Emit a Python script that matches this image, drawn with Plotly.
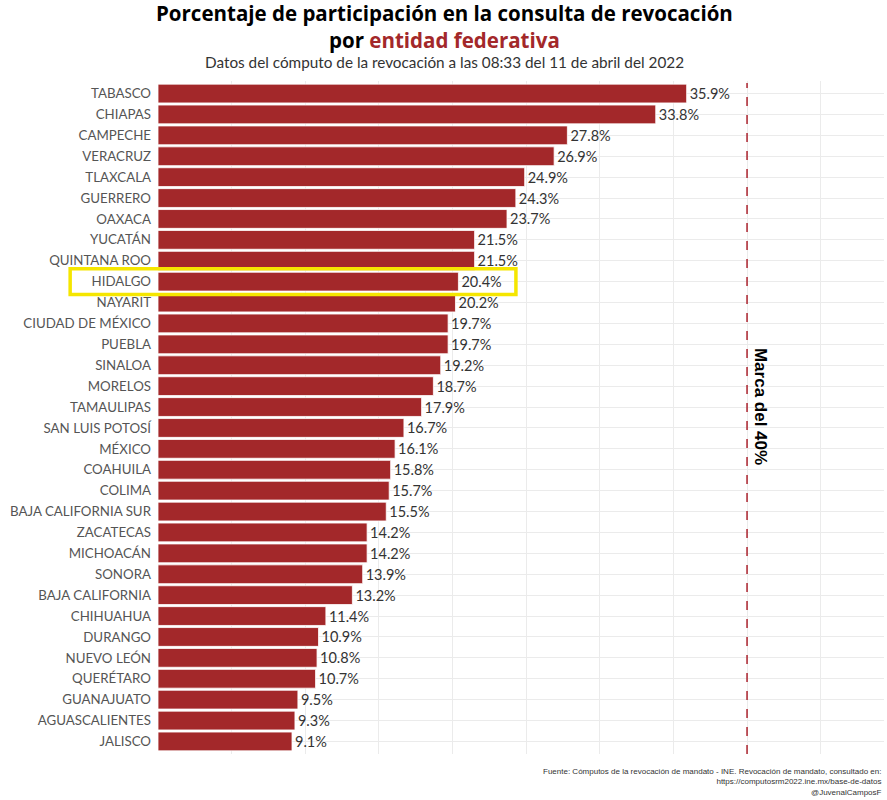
import plotly.graph_objects as go

estados = ['TABASCO', 'CHIAPAS', 'CAMPECHE', 'VERACRUZ', 'TLAXCALA', 'GUERRERO',
           'OAXACA', 'YUCATÁN', 'QUINTANA ROO', 'HIDALGO', 'NAYARIT',
           'CIUDAD DE MÉXICO', 'PUEBLA', 'SINALOA', 'MORELOS', 'TAMAULIPAS',
           'SAN LUIS POTOSÍ', 'MÉXICO', 'COAHUILA', 'COLIMA',
           'BAJA CALIFORNIA SUR', 'ZACATECAS', 'MICHOACÁN', 'SONORA',
           'BAJA CALIFORNIA', 'CHIHUAHUA', 'DURANGO', 'NUEVO LEÓN', 'QUERÉTARO',
           'GUANAJUATO', 'AGUASCALIENTES', 'JALISCO']
participacion = [35.9, 33.8, 27.8, 26.9, 24.9, 24.3, 23.7, 21.5, 21.5, 20.4,
                 20.2, 19.7, 19.7, 19.2, 18.7, 17.9, 16.7, 16.1, 15.8, 15.7,
                 15.5, 14.2, 14.2, 13.9, 13.2, 11.4, 10.9, 10.8, 10.7, 9.5,
                 9.3, 9.1]
etiquetas = [f'{v:.1f}%' for v in participacion]
destacado = 'HIDALGO'
marca = 40

rojo = '#A3282A'
orden = estados[::-1]
pos_destacado = orden.index(destacado)

trace = go.Bar(
    x=participacion,
    y=estados,
    orientation='h',
    width=0.9,
    marker=dict(color=rojo, line=dict(color='white', width=0.8)),
    text=etiquetas,
    textposition='outside',
    textfont=dict(family='Lato', size=14.5, color='#333333'),
    cliponaxis=False,
)

layout = go.Layout(
    width=887, height=800,
    margin=dict(l=158, r=3, t=81, b=46),
    paper_bgcolor='white',
    plot_bgcolor='white',
    showlegend=False,
    font=dict(family='Lato'),
    xaxis=dict(
        range=[0, 49.3],
        dtick=5,
        showticklabels=False,
        showgrid=True,
        gridcolor='#EBEBEB',
        gridwidth=1,
        zeroline=False,
        showline=False,
    ),
    yaxis=dict(
        categoryorder='array',
        categoryarray=orden,
        range=[-0.6, 31.6],
        showgrid=True,
        gridcolor='#EBEBEB',
        gridwidth=1,
        tickfont=dict(family='Lato', size=13.3, color='#555555'),
        ticks='',
        ticklabelstandoff=6,
    ),
    shapes=[
        dict(type='line', xref='x', yref='y', x0=marca, x1=marca,
             y0=-0.6, y1=31.5,
             line=dict(color='#B0303A', width=1.6, dash='dash')),
        dict(type='rect', xref='paper', yref='y',
             x0=-0.121, x1=0.493,
             y0=pos_destacado - 0.62, y1=pos_destacado + 0.62,
             line=dict(color='#F5E600', width=3.5)),
    ],
    annotations=[
        dict(text='<b>Porcentaje de participación en la consulta de revocación<br>'
                  'por <span style="color:#A3282A">entidad federativa</span></b>',
             xref='paper', yref='paper', x=0.395, y=1.0, yshift=55,
             xanchor='center', yanchor='middle', showarrow=False,
             font=dict(family='Open Sans', size=20.5, color='black')),
        dict(text='Datos del cómputo de la revocación a las 08:33 del 11 de abril del 2022',
             xref='paper', yref='paper', x=0.395, y=1.0, yshift=19,
             xanchor='center', yanchor='middle', showarrow=False,
             font=dict(family='Lato', size=15.3, color='#333333')),
        dict(text='<b>Marca del 40%</b>', xref='x', yref='y',
             x=marca, y=16.05, xshift=14, textangle=90,
             xanchor='center', yanchor='middle', showarrow=False,
             font=dict(family='Liberation Sans', size=17, color='black')),
        dict(text='Fuente: Cómputos de la revocación de mandato - INE. Revocación de mandato, consultado en:<br>'
                  'https://computosrm2022.ine.mx/base-de-datos<br>@JuvenalCamposF',
             xref='paper', yref='paper', x=1.0, y=0, yshift=-11,
             xanchor='right', yanchor='top', align='right', showarrow=False,
             font=dict(family='Liberation Sans', size=8, color='#333333')),
    ],
)

fig = go.Figure(data=[trace], layout=layout)
fig.write_html('out.html', config={'displayModeBar': False},
               post_script="document.body.style.margin='0';")
